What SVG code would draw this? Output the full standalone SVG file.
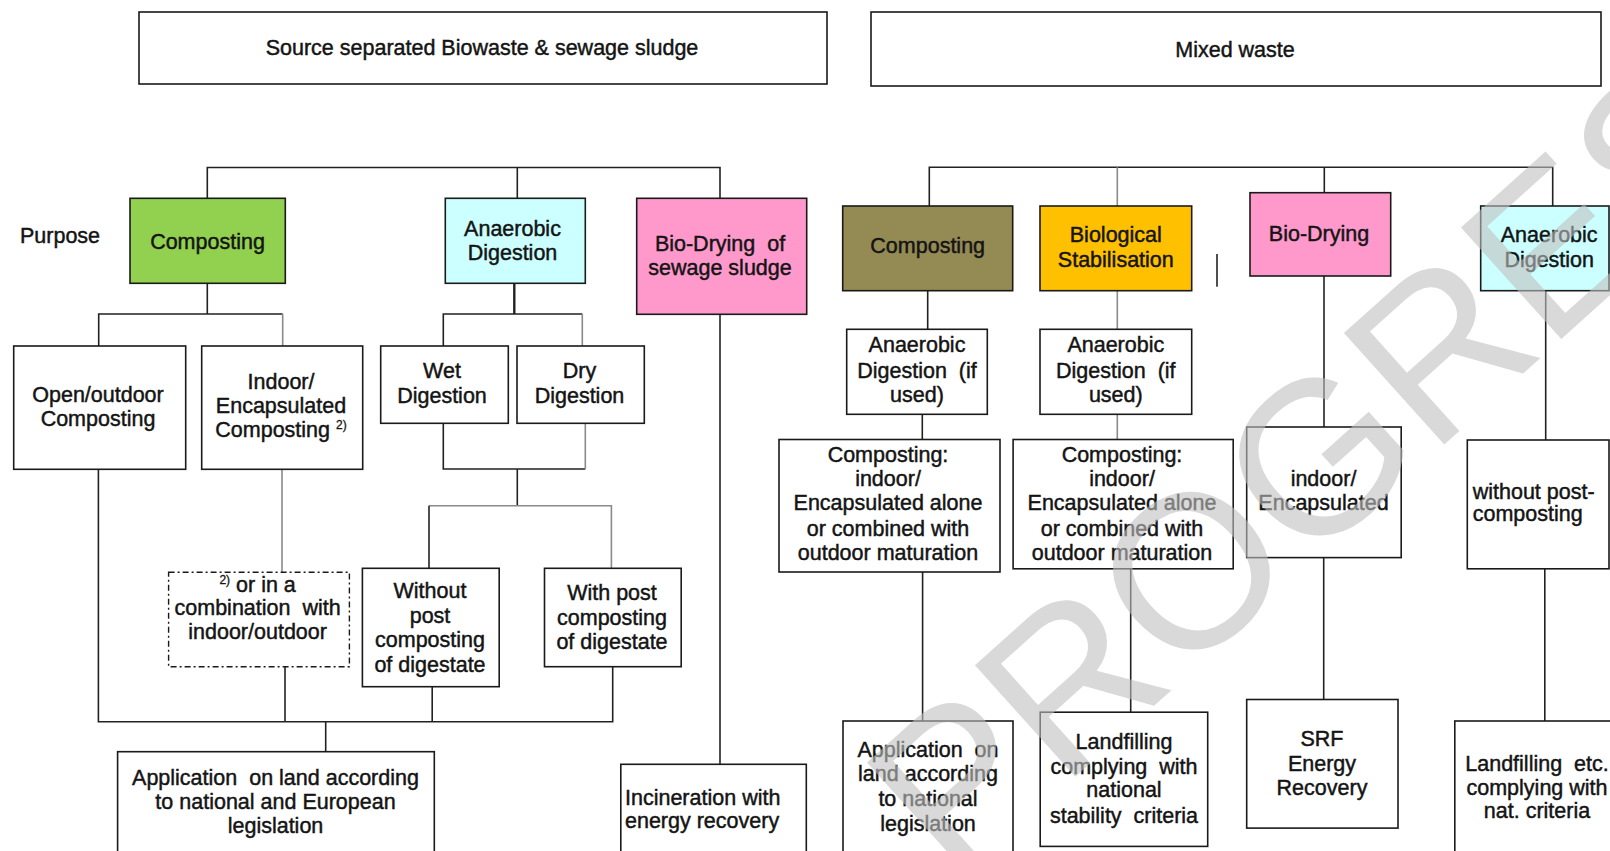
<svg xmlns="http://www.w3.org/2000/svg" width="1610" height="851" viewBox="0 0 1610 851">
<style>
text{font-family:"Liberation Sans",Arial,sans-serif;font-size:21.5px;fill:#141414;stroke:#141414;stroke-width:0.45}
.c{text-anchor:middle}
.p{white-space:pre}
.box{fill:#fff;stroke:#1a1a1a;stroke-width:1.6}
.dash{fill:#fff;stroke:#1a1a1a;stroke-width:1.4;stroke-dasharray:6 3 2 3}
.k{stroke:#222;stroke-width:1.6;fill:none}
.g{stroke:#8a8a8a;stroke-width:1.6;fill:none}
.sup{font-size:12px;stroke-width:0.3}
.wm{font-family:"Liberation Sans",Arial,sans-serif;font-size:218px;fill:#bfbfbf;fill-opacity:0.6;stroke:none}
</style>
<rect x="0" y="0" width="1610" height="851" fill="#fff"/>
<g id="connectors">
<path class="k" d="M207.3 198.3V167.5H720V198.3M517.3 167.5V198.3"/>
<path class="k" d="M207.3 283.3V314M98.7 346V314H282.7"/>
<path class="g" d="M282.7 314V346"/>
<path class="k" d="M514.3 283.3V314" style="stroke-width:2.4"/>
<path class="k" d="M443.3 346V314H582.3"/>
<path class="g" d="M582.3 314V346"/>
<path class="k" d="M443.3 423.3V469H585.3"/>
<path class="g" d="M585.3 469V423.3"/>
<path class="k" d="M517.3 469V505.7"/>
<path class="g" d="M429 505.7H611.4V568.3"/>
<path class="k" d="M429 505.7V568.3"/>
<path class="g" d="M282 469.3V572.3"/>
<path class="k" d="M98.4 469.3V721.7H612.7V666.7M285 666.7V721.7M432.2 686.7V721.7M325.7 721.7V751.7"/>
<path class="k" d="M720 314.3V764.3"/>
<path class="k" d="M929.3 206V167.3H1552.7V206M1324.3 167.3V192.7"/>
<path class="g" d="M1117.3 167.3V206M1117.3 290.7V329.3M1117.3 414.3V439.5"/>
<path class="k" d="M927.7 290.7V329.3M922.3 414.3V439.5M922.6 572V721M1130.7 568.8V712.2"/>
<path class="k" d="M1217 254V286.7"/>
<path class="k" d="M1324 276V427M1323.7 557.6V699.5"/>
<path class="k" d="M1545.7 290.7V440M1544.8 568.8V721"/>
</g>
<g id="src-biowaste"><rect class="box" x="139" y="12" width="688" height="72"/><text class="c" x="482" y="55">Source separated Biowaste &amp; sewage sludge</text></g>
<g id="mixed-waste"><rect class="box" x="871" y="12" width="730" height="74"/><text class="c" x="1235" y="57">Mixed waste</text></g>
<g id="purpose"><text x="20" y="243">Purpose</text></g>
<g id="composting-1"><rect class="box" x="130" y="198.3" width="155.3" height="85" style="fill:#92D050"/><text class="c" x="207.5" y="249">Composting</text></g>
<g id="ad-1"><rect class="box" x="445.3" y="198.3" width="140" height="85" style="fill:#CCFFFF"/><text class="c" x="512.5" y="236">Anaerobic</text><text class="c" x="512.5" y="260">Digestion</text></g>
<g id="biodry-1"><rect class="box" x="636.7" y="198.3" width="170" height="116" style="fill:#FF99CC"/><text class="c p" x="720" y="250.7">Bio-Drying  of</text><text class="c" x="720" y="275">sewage sludge</text></g>
<g id="open"><rect class="box" x="13.7" y="346" width="172" height="123.3"/><text class="c" x="98" y="401.7">Open/outdoor</text><text class="c" x="98" y="426">Composting</text></g>
<g id="indoor"><rect class="box" x="201.7" y="346" width="161" height="123.3"/><text class="c" x="281" y="389.3">Indoor/</text><text class="c" x="281" y="413.3">Encapsulated</text><text class="c" x="281" y="437.3">Composting <tspan class="sup" dy="-8">2)</tspan></text></g>
<g id="wet"><rect class="box" x="380.7" y="346" width="127.6" height="77.3"/><text class="c" x="442" y="378.3">Wet</text><text class="c" x="442" y="403.3">Digestion</text></g>
<g id="dry"><rect class="box" x="517" y="346" width="127.3" height="77.3"/><text class="c" x="579.5" y="378.3">Dry</text><text class="c" x="579.5" y="403.3">Digestion</text></g>
<g id="combination"><rect class="dash" x="168.6" y="572.3" width="180.8" height="94.4"/><text class="c" x="257.6" y="591.7"><tspan class="sup" dy="-8">2)</tspan><tspan dy="8"> or in a</tspan></text><text class="c p" x="257.6" y="615">combination  with</text><text class="c" x="257.6" y="639.3">indoor/outdoor</text></g>
<g id="without"><rect class="box" x="362.4" y="568.3" width="136.8" height="118.4"/><text class="c" x="430" y="598.3">Without</text><text class="c" x="430" y="622.7">post</text><text class="c" x="430" y="646.7">composting</text><text class="c" x="430" y="671.7">of digestate</text></g>
<g id="withpost"><rect class="box" x="544.5" y="568.3" width="136.7" height="98.4"/><text class="c" x="612" y="600">With post</text><text class="c" x="612" y="625">composting</text><text class="c" x="612" y="649">of digestate</text></g>
<g id="application-1"><rect class="box" x="117.6" y="751.7" width="316.7" height="120"/><text class="c p" x="275.5" y="785">Application  on land according</text><text class="c" x="275.5" y="809.3">to national and European</text><text class="c" x="275.5" y="833.3">legislation</text></g>
<g id="incineration"><rect class="box" x="620.8" y="764.3" width="185.5" height="110"/><text x="625" y="805">Incineration with</text><text x="625" y="828">energy recovery</text></g>
<g id="composting-2"><rect class="box" x="842.7" y="206" width="170" height="84.7" style="fill:#948A54"/><text class="c" x="927.7" y="253.3">Composting</text></g>
<g id="biostab"><rect class="box" x="1040" y="206" width="151.7" height="84.7" style="fill:#FFC000"/><text class="c" x="1115.8" y="241.7">Biological</text><text class="c" x="1115.8" y="266.7">Stabilisation</text></g>
<g id="biodry-2"><rect class="box" x="1250" y="192.7" width="140.7" height="83.3" style="fill:#FF99CC"/><text class="c" x="1319" y="240.7">Bio-Drying</text></g>
<g id="ad-2"><rect class="box" x="1480.7" y="206" width="128.3" height="84.7" style="fill:#CCFFFF"/><text class="c" x="1549.2" y="241.7">Anaerobic</text><text class="c" x="1549.2" y="266.7">Digestion</text></g>
<g id="adif-1"><rect class="box" x="846.7" y="329.3" width="140.6" height="85"/><text class="c" x="917" y="351.7">Anaerobic</text><text class="c p" x="917" y="378.3">Digestion  (if</text><text class="c" x="917" y="401.7">used)</text></g>
<g id="adif-2"><rect class="box" x="1040" y="329.3" width="151.7" height="85"/><text class="c" x="1115.8" y="351.7">Anaerobic</text><text class="c p" x="1115.8" y="378.3">Digestion  (if</text><text class="c" x="1115.8" y="401.7">used)</text></g>
<g id="compind-1"><rect class="box" x="779" y="439.5" width="221" height="132.5"/><text class="c" x="888" y="462.3">Composting:</text><text class="c" x="888" y="486.2">indoor/</text><text class="c" x="888" y="510.1">Encapsulated alone</text><text class="c" x="888" y="536.1">or combined with</text><text class="c" x="888" y="560">outdoor maturation</text></g>
<g id="compind-2"><rect class="box" x="1013.1" y="439.5" width="220.1" height="129.3"/><text class="c" x="1122" y="462.3">Composting:</text><text class="c" x="1122" y="486.2">indoor/</text><text class="c" x="1122" y="510.1">Encapsulated alone</text><text class="c" x="1122" y="536.1">or combined with</text><text class="c" x="1122" y="560">outdoor maturation</text></g>
<g id="indoor-2"><rect class="box" x="1246.7" y="427" width="154.5" height="130.6"/><text class="c" x="1323.5" y="486.2">indoor/</text><text class="c" x="1323.5" y="510.1">Encapsulated</text></g>
<g id="without-2"><rect class="box" x="1467.3" y="440" width="141.7" height="128.8"/><text x="1472.7" y="498.5">without post-</text><text x="1472.7" y="521.4">composting</text></g>
<g id="application-2"><rect class="box" x="843" y="721" width="170" height="150"/><text class="c p" x="928" y="756.8">Application  on</text><text class="c" x="928" y="781.4">land according</text><text class="c" x="928" y="806">to national</text><text class="c" x="928" y="831.3">legislation</text></g>
<g id="landfill"><rect class="box" x="1040.2" y="712.2" width="167.5" height="134.2"/><text class="c" x="1124" y="749">Landfilling</text><text class="c p" x="1124" y="773.6">complying  with</text><text class="c" x="1124" y="797.2">national</text><text class="c p" x="1124" y="822.8">stability  criteria</text></g>
<g id="srf"><rect class="box" x="1246.7" y="699.5" width="151.3" height="128.6"/><text class="c" x="1322" y="745.5">SRF</text><text class="c" x="1322" y="770.8">Energy</text><text class="c" x="1322" y="794.7">Recovery</text></g>
<g id="landfill-2"><rect class="box" x="1454.8" y="721" width="170" height="150"/><text class="c p" x="1537" y="770.8">Landfilling  etc.</text><text class="c" x="1537" y="794.7">complying with</text><text class="c" x="1537" y="818.3">nat. criteria</text></g>
<text class="wm" transform="translate(954 886) rotate(-42)">PROGRESS</text>
</svg>
